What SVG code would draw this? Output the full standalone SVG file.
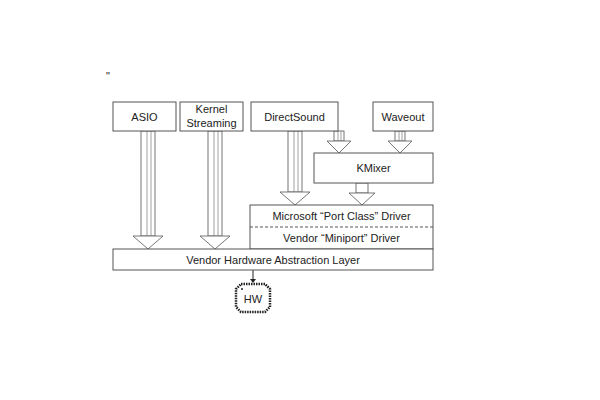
<svg xmlns="http://www.w3.org/2000/svg" width="600" height="400" viewBox="0 0 600 400">
<style>
.box{fill:#fff;stroke:#555;stroke-width:1}
.t{font-family:"Liberation Sans",Arial,sans-serif;font-size:11px;fill:#222;text-anchor:middle}
.sh{fill:#fff;stroke:#666;stroke-width:0.9}
.in{stroke:#888;stroke-width:0.8;fill:none}
</style>
<rect width="600" height="400" fill="#fff"/>
<text x="108" y="80" class="t" font-size="8">"</text>
<g id="connectors">
<!-- ASIO -->
<rect class="sh" x="141" y="131" width="14" height="105"/><path class="in" d="M147,131V236M151,131V236"/><polygon class="sh" points="133,236 163,236 148,249"/>
<!-- Kernel -->
<rect class="sh" x="208" y="131" width="14" height="105"/><path class="in" d="M214,131V236M218,131V236"/><polygon class="sh" points="200,236 230,236 215,249"/>
<!-- DirectSound -->
<rect class="sh" x="288" y="131" width="14" height="61"/><path class="in" d="M294,131V192M298,131V192"/><polygon class="sh" points="280,192 310,192 295,205"/>
<!-- DS to KMixer -->
<rect class="sh" x="334" y="131" width="10" height="10"/><path class="in" d="M338,131V141M341,131V141"/><polygon class="sh" points="327,141 351,141 339,153"/>
<!-- Waveout -->
<rect class="sh" x="395" y="131" width="10" height="10"/><path class="in" d="M399,131V141M402,131V141"/><polygon class="sh" points="388,141 412,141 400,153"/>
<!-- KMixer to port -->
<rect class="sh" x="356" y="183" width="12" height="10"/><polygon class="sh" points="349,193 375,193 362,205"/>
<!-- HAL to HW -->
<path d="M253,270V280" stroke="#222" stroke-width="1"/><polygon points="250,279 256,279 253,283" fill="#222"/>
</g>
<g id="asio"><rect class="box" x="113" y="102" width="63" height="29"/><text class="t" x="144.5" y="121">ASIO</text></g>
<g id="kernel"><rect class="box" x="180" y="102" width="63" height="29"/><text class="t" x="211.5" y="113">Kernel</text><text class="t" x="211.5" y="127">Streaming</text></g>
<g id="directsound"><rect class="box" x="251" y="102" width="87" height="29"/><text class="t" x="294.5" y="121">DirectSound</text></g>
<g id="waveout"><rect class="box" x="373" y="102" width="60" height="29"/><text class="t" x="403" y="121">Waveout</text></g>
<g id="kmixer"><rect class="box" x="314" y="153" width="119" height="30"/><text class="t" x="373.5" y="172">KMixer</text></g>
<g id="drivers"><rect class="box" x="250" y="205" width="183" height="44"/><line x1="250" y1="227" x2="433" y2="227" stroke="#555" stroke-dasharray="3,2"/><text class="t" x="341.5" y="220">Microsoft “Port Class” Driver</text><text class="t" x="341.5" y="242">Vendor “Miniport” Driver</text></g>
<g id="hal"><rect class="box" x="113" y="249" width="320" height="21"/><text class="t" x="273" y="264">Vendor Hardware Abstraction Layer</text></g>
<g id="hw"><polygon points="241,284 265,284 270,289 270,307 265,312 241,312 236,307 236,289" fill="#fff" stroke="#222" stroke-width="2.5" stroke-dasharray="1.5,1"/><circle cx="242" cy="289" r="1" fill="#222"/><text class="t" x="253" y="303">HW</text></g>
</svg>
